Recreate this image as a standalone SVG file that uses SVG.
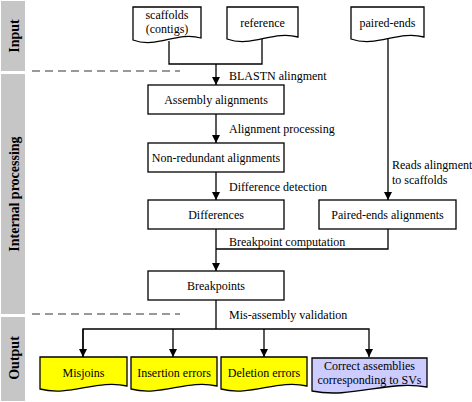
<svg xmlns="http://www.w3.org/2000/svg" width="472" height="402" viewBox="0 0 472 402">
<style>
text{font-family:"Liberation Serif","Times New Roman",Tinos,"DejaVu Serif",serif;font-size:12px;fill:#000}
.c{text-anchor:middle}
.side{font-size:14px;font-weight:bold;text-anchor:middle}
.band{fill:#c6c6c6}
.box{fill:#fff;stroke:#000;stroke-width:1.3}
.doc{fill:#fff;stroke:#000;stroke-width:1.3}
.yel{fill:#ffff00;stroke:#000;stroke-width:1.3}
.blu{fill:#ccccff;stroke:#000;stroke-width:1.3}
.ln{fill:none;stroke:#000;stroke-width:1.3}
.dash{stroke:#999;stroke-width:2;stroke-dasharray:8 5}
</style>
<defs>
<marker id="ah" markerUnits="userSpaceOnUse" markerWidth="8" markerHeight="9" refX="8" refY="4" orient="auto">
<path d="M0,0 L8,4 L0,8 Z" fill="#000"/>
</marker>
</defs>
<rect width="472" height="402" fill="#fff"/>
<g id="bands">
<rect class="band" x="1" y="1" width="24" height="70"/>
<rect class="band" x="1" y="74" width="24" height="240"/>
<rect class="band" x="1" y="317" width="24" height="84"/>
<text class="side" transform="translate(19,36) rotate(-90)">Input</text>
<text class="side" transform="translate(19,194) rotate(-90)">Internal processing</text>
<text class="side" transform="translate(19,358) rotate(-90)">Output</text>
<line class="dash" x1="32" y1="71" x2="180" y2="71"/>
<line class="dash" x1="32" y1="314" x2="180" y2="314"/>
</g>
<g id="connectors">
<path class="ln" d="M169,41 V64 H262 V37"/>
<path class="ln" d="M216,64 V85" marker-end="url(#ah)"/>
<path class="ln" d="M216,114 V143" marker-end="url(#ah)"/>
<path class="ln" d="M216,172 V200" marker-end="url(#ah)"/>
<path class="ln" d="M388,38 V200" marker-end="url(#ah)"/>
<path class="ln" d="M216,229 V271" marker-end="url(#ah)"/>
<path class="ln" d="M216,249 H388 V229"/>
<path class="ln" d="M216,300 V329"/>
<path class="ln" d="M83,357 V329 H369 V357" marker-end="url(#ah)"/>
<path class="ln" d="M83,329 V357" marker-end="url(#ah)"/>
<path class="ln" d="M173,329 V357" marker-end="url(#ah)"/>
<path class="ln" d="M264,329 V357" marker-end="url(#ah)"/>
<text x="229" y="80">BLASTN alingment</text>
<text x="229" y="133">Alignment processing</text>
<text x="229" y="191">Difference detection</text>
<text x="229" y="246">Breakpoint computation</text>
<text x="229" y="319">Mis-assembly validation</text>
<text x="392" y="169">Reads alingment</text>
<text x="392" y="184">to scaffolds</text>
</g>
<g id="scaffolds">
<path class="doc" d="M133,7 H201 V38 C177,31 157,49 133,40 Z"/>
<text class="c" x="167" y="19">scaffolds</text>
<text class="c" x="167" y="33">(contigs)</text>
</g>
<g id="reference">
<path class="doc" d="M227,7 H298 V37 C273,30 252,48 227,39 Z"/>
<text class="c" x="262.5" y="27">reference</text>
</g>
<g id="paired-ends">
<path class="doc" d="M351,7 H424 V37 C398,30 377,48 351,39 Z"/>
<text class="c" x="387.5" y="27">paired-ends</text>
</g>
<g id="assembly-alignments">
<rect class="box" x="148" y="85" width="136" height="29"/>
<text class="c" x="216" y="104">Assembly alignments</text>
</g>
<g id="non-redundant">
<rect class="box" x="148" y="143" width="136" height="29"/>
<text class="c" x="216" y="162">Non-redundant alignments</text>
</g>
<g id="differences">
<rect class="box" x="148" y="200" width="136" height="29"/>
<text class="c" x="216" y="219">Differences</text>
</g>
<g id="paired-ends-alignments">
<rect class="box" x="319" y="200" width="137" height="29"/>
<text class="c" x="387.5" y="219">Paired-ends alignments</text>
</g>
<g id="breakpoints">
<rect class="box" x="148" y="271" width="136" height="29"/>
<text class="c" x="216" y="290">Breakpoints</text>
</g>
<g id="misjoins">
<path class="yel" d="M40,357 H127 V386 C97,379 70,397 40,389 Z"/>
<text class="c" x="83.5" y="377">Misjoins</text>
</g>
<g id="insertion-errors">
<path class="yel" d="M131,357 H217 V386 C187,379 161,397 131,389 Z"/>
<text class="c" x="174" y="377">Insertion errors</text>
</g>
<g id="deletion-errors">
<path class="yel" d="M221,357 H307 V386 C277,379 251,397 221,389 Z"/>
<text class="c" x="264" y="377">Deletion errors</text>
</g>
<g id="correct-assemblies">
<path class="blu" d="M312,358 H427 V387 C387,380 352,399 312,391 Z"/>
<text class="c" x="369.5" y="370">Correct assemblies</text>
<text class="c" x="369.5" y="384">corresponding to SVs</text>
</g>
</svg>
